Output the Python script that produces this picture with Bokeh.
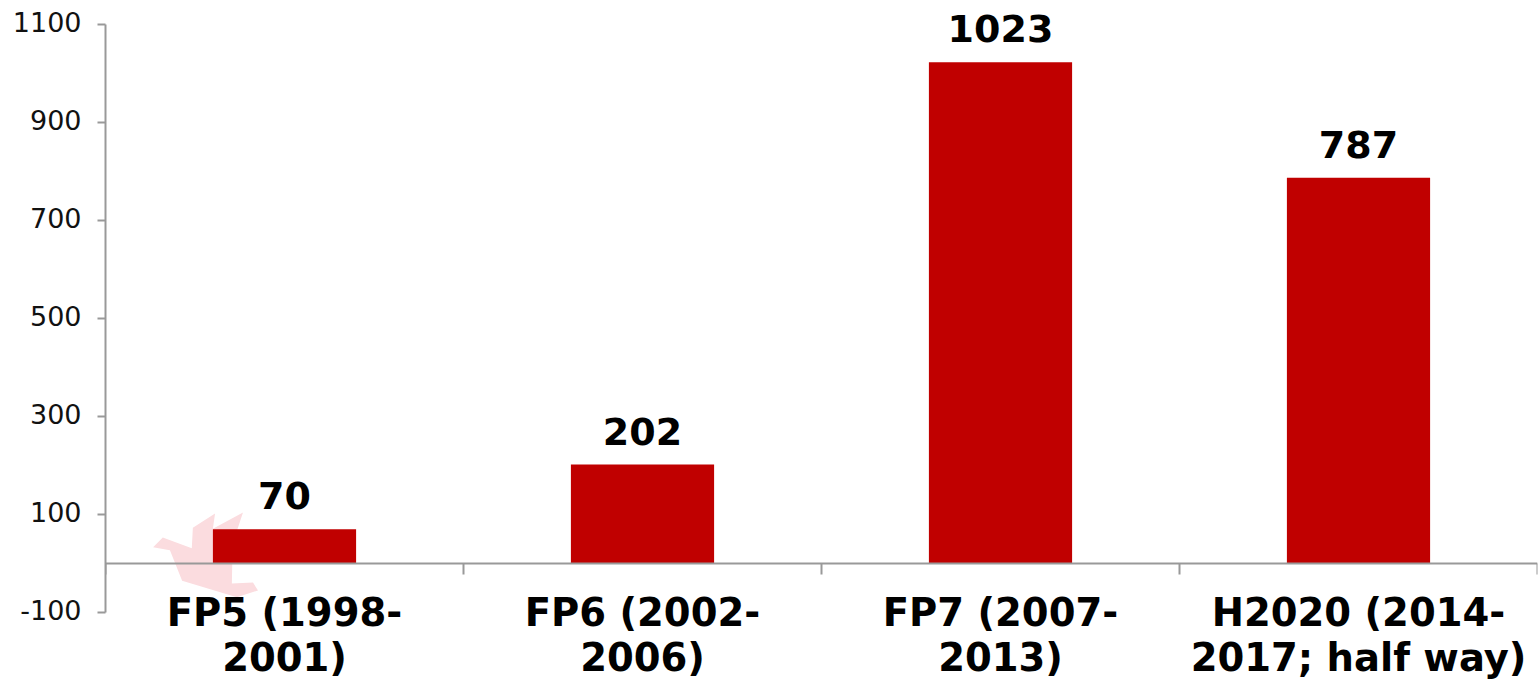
from bokeh.plotting import figure
from bokeh.models import (ColumnDataSource, Range1d, LinearAxis, FixedTicker, LabelSet)
from bokeh.core.properties import value
from bokeh.embed import file_html
from bokeh.resources import INLINE

category_line1 = ["FP5 (1998-", "FP6 (2002-", "FP7 (2007-", "H2020 (2014-"]
category_line2 = ["2001)", "2006)", "2013)", "2017; half way)"]
values = [70, 202, 1023, 787]
y_ticks = [-100, 100, 300, 500, 700, 900, 1100]
centers = [0.5, 1.5, 2.5, 3.5]
boundaries = [0, 1, 2, 3, 4]
# faint watermark behind the first bar, in category / value units
dove_x = [0.133, 0.160, 0.241, 0.244, 0.306, 0.300, 0.384, 0.355, 0.353, 0.412, 0.426, 0.367, 0.214, 0.180]
dove_y = [33, 53, 31, 73, 102, 71, 104, 40, -41, -39, -55, -69, -35, 27]

source = ColumnDataSource(dict(x=centers, top=values, label=[str(v) for v in values]))
cat_source = ColumnDataSource(dict(x=centers, y=[-100] * 4, line1=category_line1, line2=category_line2))

p = figure(width=1538, height=680, output_backend="svg", toolbar_location=None,
           x_range=Range1d(0, 4), y_range=Range1d(-238.8, 1149),
           x_axis_type=None, y_axis_type=None,
           min_border_left=105, min_border_right=1, min_border_top=0, min_border_bottom=0,
           outline_line_color=None, background_fill_color="white", border_fill_color="white")
p.grid.visible = False

p.patch(dove_x, dove_y, fill_color="#fbdcdf", line_color=None, level="underlay")
p.vbar(x="x", top="top", bottom=0, width=0.4, source=source, fill_color="#C00000", line_color=None)

AXIS = "#999999"
# axis line and ticks of the value axis, next to the frame
ya = LinearAxis(ticker=FixedTicker(ticks=y_ticks), bounds=(-100, 1100))
ya.axis_line_color = AXIS; ya.axis_line_width = 2
ya.major_tick_line_color = AXIS; ya.major_tick_line_width = 2
ya.major_tick_in = 0; ya.major_tick_out = 8
ya.minor_tick_line_color = None
ya.major_label_standoff = 0
ya.major_label_text_font_size = "0px"
ya.major_label_text_color = None
p.add_layout(ya, "left")

# labels only: nudged up so the digits sit centred on the tick marks
label_shift = 6
shifted = [t + label_shift for t in y_ticks]
yl = LinearAxis(ticker=FixedTicker(ticks=shifted),
                major_label_overrides={s: str(t) for s, t in zip(shifted, y_ticks)})
yl.axis_line_color = None
yl.major_tick_line_color = None
yl.minor_tick_line_color = None
yl.major_tick_in = 0; yl.major_tick_out = 0
yl.major_label_standoff = 16
yl.major_label_text_font = "DejaVu Sans"
yl.major_label_text_font_size = "27px"
yl.major_label_text_color = "#111111"
p.add_layout(yl, "left")

xa = LinearAxis(ticker=FixedTicker(ticks=boundaries), fixed_location=0)
xa.axis_line_color = AXIS; xa.axis_line_width = 2
xa.major_tick_line_color = AXIS; xa.major_tick_line_width = 2
xa.major_tick_in = 11; xa.major_tick_out = 0
xa.minor_tick_line_color = None
xa.major_label_standoff = 0
xa.major_label_text_font_size = "0px"
xa.major_label_text_color = None
p.add_layout(xa, "above")

for column, offset in (("line1", -14), ("line2", -59)):
    p.add_layout(LabelSet(x="x", y="y", text=column, source=cat_source, y_offset=offset,
                          text_align="center", text_baseline="alphabetic",
                          text_font=value("DejaVu Sans"), text_font_style="bold",
                          text_font_size="38.5px", text_color="black"))

labels = LabelSet(x="x", y="top", text="label", source=source, y_offset=20,
                  text_align="center", text_baseline="alphabetic",
                  text_font=value("DejaVu Sans"), text_font_style="bold",
                  text_font_size="38px", text_color="black")
p.add_layout(labels)

open("out.html", "w").write(file_html(p, INLINE))
